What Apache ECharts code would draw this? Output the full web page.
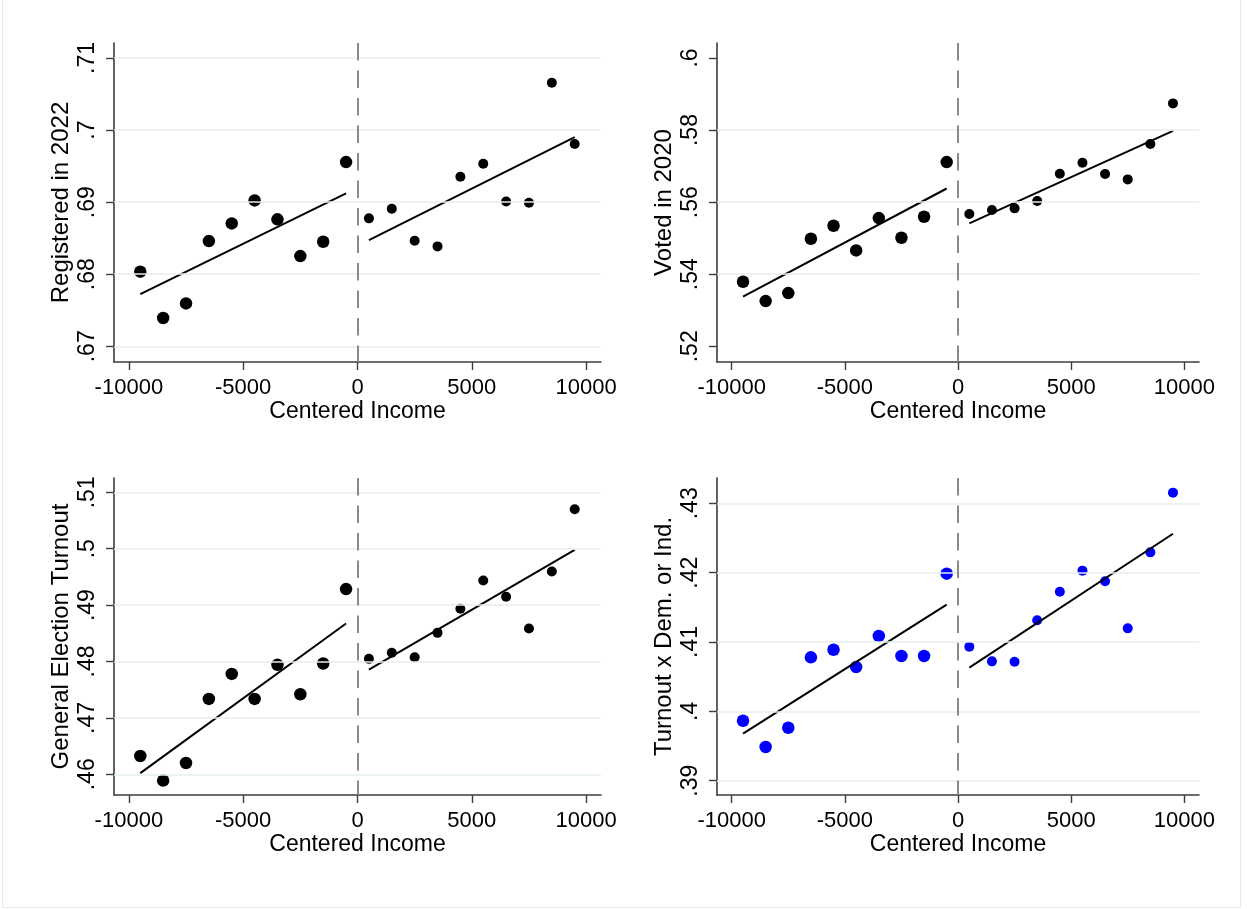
<!DOCTYPE html>
<html>
<head>
<meta charset="utf-8">
<title>Outcomes by Centered Income</title>
<script src="https://cdn.jsdelivr.net/npm/echarts@6/dist/echarts.min.js"></script>
<style>
  html, body { margin: 0; padding: 0; background: #ffffff; }
  #chart { width: 1247px; height: 909px; }
</style>
</head>
<body>
<div id="chart"></div>
<script>
// Income bins (centered), binned means for each outcome
const incomeBins = [-9500, -8500, -7500, -6500, -5500, -4500, -3500, -2500, -1500, -500,
                     500, 1500, 2500, 3500, 4500, 5500, 6500, 7500, 8500, 9500];

const registered2022 = [0.68035, 0.67392, 0.67595, 0.68460, 0.68705, 0.69024, 0.68761, 0.68252, 0.68451, 0.69556,
                        0.68775, 0.68909, 0.68465, 0.68386, 0.69353, 0.69533, 0.69010, 0.68992, 0.70657, 0.69806];

const voted2020 = [0.53792, 0.53255, 0.53477, 0.54985, 0.55346, 0.54661, 0.55558, 0.55013, 0.55595, 0.57112,
                   0.55669, 0.55780, 0.55827, 0.56030, 0.56788, 0.57094, 0.56779, 0.56631, 0.57612, 0.58740];

const generalTurnout = [0.46325, 0.45888, 0.46201, 0.47337, 0.47780, 0.47337, 0.47941, 0.47420, 0.47965, 0.49284,
                        0.48047, 0.48154, 0.48077, 0.48508, 0.48935, 0.49437, 0.49148, 0.48586, 0.49597, 0.50700];

const turnoutDemInd = [0.39865, 0.39486, 0.39764, 0.40779, 0.40889, 0.40639, 0.41087, 0.40798, 0.40798, 0.41986,
                       0.40933, 0.40721, 0.40716, 0.41313, 0.41726, 0.42029, 0.41875, 0.41197, 0.42293, 0.43154];

// Tick labels
const xTicks = [-10000, -5000, 0, 5000, 10000];
const yTicksRegistered = [0.67, 0.68, 0.69, 0.70, 0.71];
const yTicksVoted = [0.52, 0.54, 0.56, 0.58, 0.60];
const yTicksTurnout = [0.46, 0.47, 0.48, 0.49, 0.50, 0.51];
const yTicksDemInd = [0.39, 0.40, 0.41, 0.42, 0.43];

// Horizontal grid lines per panel
const gridRegistered = [0.67, 0.68, 0.69, 0.70, 0.71];
const gridVoted = [0.54, 0.56, 0.58];
const gridTurnout = [0.46, 0.47, 0.48, 0.49, 0.50, 0.51];
const gridDemInd = [0.39, 0.40, 0.41, 0.42, 0.43];

// Axis extents
const xRange = [-10650, 10650];
const yRangeRegistered = [0.66782, 0.71208];
const yRangeVoted = [0.51564, 0.60416];
const yRangeTurnout = [0.45633, 0.51254];
const yRangeDemInd = [0.38794, 0.43365];

const FONT = "'Liberation Sans', Arial, Helvetica, sans-serif";
const AXIS_COLOR = '#3c3c3c';

const panels = [
  { title: 'Registered in 2022', values: registered2022, ticks: yTicksRegistered, grid: gridRegistered,
    range: yRangeRegistered, color: '#000000', rect: { left: 114, top: 43, width: 487, height: 319 } },
  { title: 'Voted in 2020', values: voted2020, ticks: yTicksVoted, grid: gridVoted,
    range: yRangeVoted, color: '#000000', rect: { left: 717, top: 43, width: 482, height: 319 } },
  { title: 'General Election Turnout', values: generalTurnout, ticks: yTicksTurnout, grid: gridTurnout,
    range: yRangeTurnout, color: '#000000', rect: { left: 114, top: 478, width: 487, height: 317 } },
  { title: 'Turnout x Dem. or Ind.', values: turnoutDemInd, ticks: yTicksDemInd, grid: gridDemInd,
    range: yRangeDemInd, color: '#0000ff', rect: { left: 717, top: 478, width: 482, height: 317 } }
];

// Ordinary least squares fit over a set of points, returned as its two end points
function linearFit(points) {
  const n = points.length;
  const mx = points.reduce((s, p) => s + p[0], 0) / n;
  const my = points.reduce((s, p) => s + p[1], 0) / n;
  let sxy = 0, sxx = 0;
  points.forEach(p => { sxy += (p[0] - mx) * (p[1] - my); sxx += (p[0] - mx) * (p[0] - mx); });
  const b = sxy / sxx;
  const a = my - b * mx;
  const x0 = points[0][0], x1 = points[n - 1][0];
  return [[x0, a + b * x0], [x1, a + b * x1]];
}

const fmtY = v => String(+v.toFixed(4)).replace(/^0\./, '.').replace(/^-0\./, '-.');

const grids = [], xAxes = [], yAxes = [], series = [];

panels.forEach((p, i) => {
  grids.push(Object.assign({ containLabel: false }, p.rect));

  xAxes.push({
    gridIndex: i, type: 'value', min: xRange[0], max: xRange[1],
    name: 'Centered Income', nameLocation: 'middle', nameGap: 37,
    nameTextStyle: { fontSize: 23, color: '#000', fontFamily: FONT },
    axisLine: { show: true, onZero: false, lineStyle: { color: AXIS_COLOR, width: 1.6 } },
    axisTick: { show: true, customValues: xTicks, length: 8, lineStyle: { color: AXIS_COLOR, width: 1.4 } },
    axisLabel: { customValues: xTicks, formatter: v => String(v), fontSize: 22, margin: 15,
                 color: '#000', fontFamily: FONT },
    splitLine: { show: false }
  });

  yAxes.push({
    gridIndex: i, type: 'value', min: p.range[0], max: p.range[1],
    name: p.title, nameLocation: 'middle', nameGap: 41,
    nameTextStyle: { fontSize: 24, color: '#000', fontFamily: FONT },
    axisLine: { show: true, onZero: false, lineStyle: { color: AXIS_COLOR, width: 1.6 } },
    axisTick: { show: true, customValues: p.ticks, length: 8, lineStyle: { color: AXIS_COLOR, width: 1.4 } },
    axisLabel: { customValues: p.ticks, formatter: fmtY, rotate: 90, fontSize: 23, margin: 15,
                 color: '#000', fontFamily: FONT },
    splitLine: { show: false }
  });

  const pts = incomeBins.map((x, k) => [x, p.values[k]]);
  const left = pts.filter(d => d[0] < 0);
  const right = pts.filter(d => d[0] > 0);

  // horizontal grid lines
  series.push({
    type: 'line', xAxisIndex: i, yAxisIndex: i, data: [], z: 1, silent: true,
    markLine: {
      silent: true, symbol: ['none', 'none'], label: { show: false }, animation: false,
      lineStyle: { color: '#e4eef1', width: 1.6, type: 'solid' },
      emphasis: { disabled: true },
      data: p.grid.map(v => ({ yAxis: v }))
    }
  });

  // dashed reference line at zero income
  series.push({
    type: 'line', xAxisIndex: i, yAxisIndex: i, data: [], z: 2, silent: true,
    markLine: {
      silent: true, symbol: ['none', 'none'], label: { show: false }, animation: false,
      lineStyle: { color: '#8a8a8a', width: 2, type: [17.5, 10] },
      emphasis: { disabled: true },
      data: [[{ coord: [0, p.range[1]] }, { coord: [0, p.range[0]] }]]
    }
  });

  // binned means
  series.push({
    type: 'scatter', xAxisIndex: i, yAxisIndex: i, data: left, symbolSize: 12.5, z: 3,
    itemStyle: { color: p.color, opacity: 1 }
  });
  series.push({
    type: 'scatter', xAxisIndex: i, yAxisIndex: i, data: right, symbolSize: 10, z: 3,
    itemStyle: { color: p.color, opacity: 1 }
  });

  // linear fits on each side of zero
  [left, right].forEach(side => {
    series.push({
      type: 'line', xAxisIndex: i, yAxisIndex: i, data: linearFit(side), z: 4,
      showSymbol: false, symbol: 'none', silent: true,
      lineStyle: { color: '#000', width: 2 }
    });
  });
});

const chart = echarts.init(document.getElementById('chart'), null, { renderer: 'canvas' });
chart.setOption({
  backgroundColor: '#ffffff',
  animation: false,
  textStyle: { fontFamily: FONT },
  grid: grids,
  xAxis: xAxes,
  yAxis: yAxes,
  series: series,
  graphic: [{
    type: 'rect', silent: true, z: -10,
    shape: { x: 2.5, y: -5, width: 1238, height: 912.5 },
    style: { fill: 'none', stroke: '#e6e6e6', lineWidth: 1 }
  }]
});
</script>
</body>
</html>
